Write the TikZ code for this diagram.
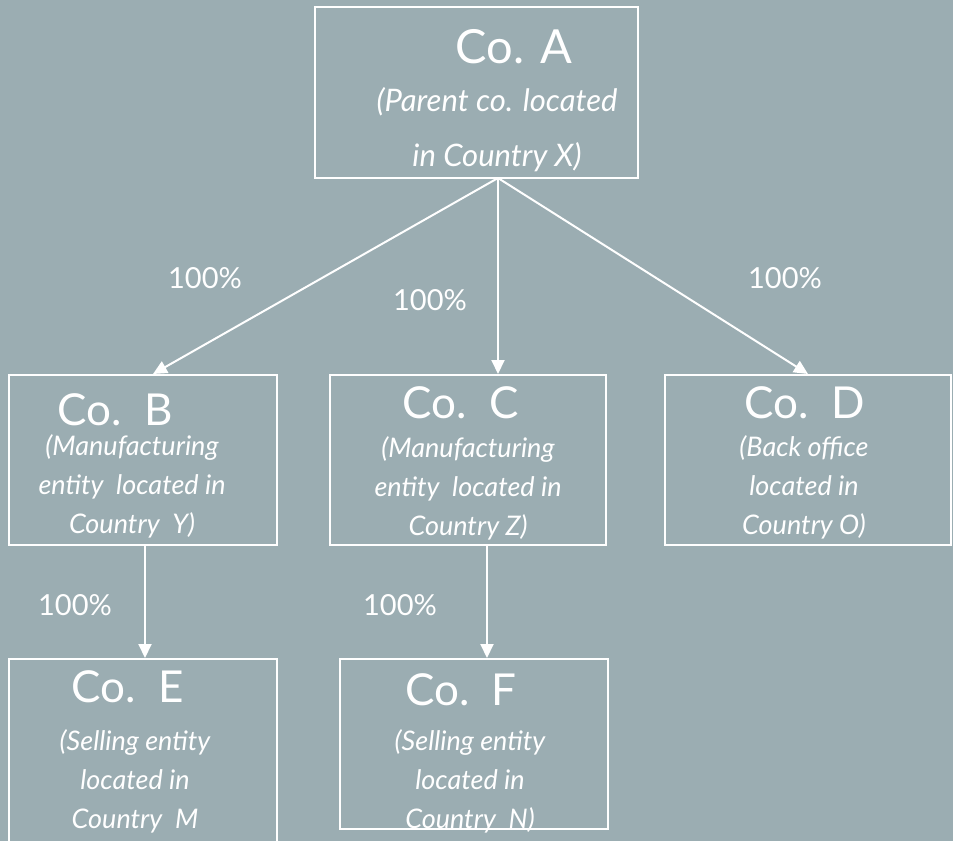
\documentclass[tikz,border=0pt]{standalone}
\usepackage{fontspec}
\setmainfont{Lato}
\usetikzlibrary{arrows.meta,positioning}
\definecolor{orgBack}{RGB}{155,173,178}
\tikzset{
  compbox/.style={draw=white, line width=2pt, inner sep=0pt},
  cotitle/.style={anchor=base, text=white, inner sep=0pt, font=\fontsize{#1}{#1}\selectfont},
  conote/.style={anchor=base, text=white, inner sep=0pt, align=center,
    font=\fontsize{27}{39}\selectfont\itshape},
  pct/.style={text=white, inner sep=0pt, font=\fontsize{29}{29}\selectfont},
  own/.style={draw=white, line width=2pt, -{Triangle[length=14pt,width=13pt]}}
}

\begin{document}
\begin{tikzpicture}[x=1pt,y=-1pt]
  \clip (0,0) rectangle (953,841);
  \fill[orgBack] (0,0) rectangle (953,841);
  % parent company
  \node[compbox, minimum width=323, minimum height=171] (A) at (476.5,92.5) {};
  \node[cotitle=47] (Atitle) at (514,63) {Co. A};
  \node[conote, font=\fontsize{31}{55}\selectfont\itshape] (Anote) at (497,166) {(Parent co. located\\in Country X)};
  % subsidiaries
  \node[compbox, minimum width=268, minimum height=170] (B) at (143,460) {};
  \node[compbox, minimum width=276, minimum height=170] (C) at (468,460) {};
  \node[compbox, minimum width=286, minimum height=170] (D) at (808,460) {};
  \node[compbox, minimum width=268, minimum height=220] (E) at (142.5,769) {};
  \node[compbox, minimum width=268, minimum height=170] (F) at (474,744) {};
  \node[cotitle=44] (Btitle) at (115,425) {Co.~~B};
  \node[cotitle=44] (Ctitle) at (461,418) {Co.~~C};
  \node[cotitle=44] (Dtitle) at (805,418) {Co.~~D};
  \node[cotitle=44] (Etitle) at (128,702) {Co.~~E};
  \node[cotitle=44] (Ftitle) at (461,705) {Co.~~F};
  \node[conote] (Bnote) at (132,533) {(Manufacturing\\entity~ located in\\Country~ Y)};
  \node[conote] (Cnote) at (468,535) {(Manufacturing\\entity~ located in\\Country Z)};
  \node[conote] (Dnote) at (804,534) {(Back office\\located in\\Country O)};
  \node[conote] (Enote) at (135,828) {(Selling entity\\located in\\Country~ M};
  \node[conote] (Fnote) at (470,828) {(Selling entity\\located in\\Country~ N)};
  % ownership arrows
  \coordinate (hub) at (498,178);
  \draw[own] (hub) -- ([xshift=10]B.north);
  \draw[own] (hub) -- (hub |- C.north);
  \draw[own] (hub) -- (D.north);
  \draw[own] ([xshift=2]B.south) -- ([xshift=2]B.south |- E.north);
  \draw[own] ([xshift=19]C.south) -- ([xshift=19]C.south |- F.north);
  % percentages
  \node[pct] (pAB) at (205,278) {100\%};
  \node[pct] (pAC) at (430,300) {100\%};
  \node[pct] (pAD) at (785,278) {100\%};
  \node[pct] (pBE) at (75,605) {100\%};
  \node[pct] (pCF) at (400,605) {100\%};
\end{tikzpicture}
\end{document}
